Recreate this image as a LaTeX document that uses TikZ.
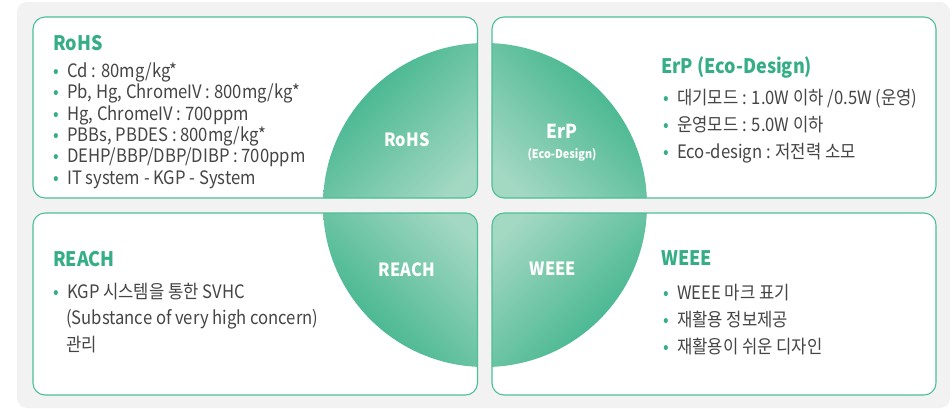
\documentclass[tikz,border=0pt]{standalone}
\usepackage{fontspec}
\setmainfont{Noto Sans CJK KR}[FakeStretch=0.9]
\usepackage{xcolor}
\usepackage{tikz}

\definecolor{bggray}{HTML}{F2F2F2}
\definecolor{pgreen}{HTML}{4DBF96}
\definecolor{tgreen}{HTML}{35AE85}
\definecolor{tgray}{HTML}{454545}
\definecolor{gdark}{HTML}{36B187}
\definecolor{gmid}{HTML}{4AB891}
\definecolor{glight}{HTML}{A3D8C3}

\tikzset{
    panel/.style={draw=pgreen, line width=1.1pt, rounded corners=12pt},
    heading/.style={anchor=base west, inner sep=0pt, text=tgreen, font=\bfseries\fontsize{20}{24}\selectfont},
    itemline/.style={anchor=base west, inner sep=0pt, text=tgray, font=\fontsize{18.5}{20}\selectfont},
    quadlabel/.style={text=white, font=\bfseries\fontsize{18.2}{22}\selectfont},
}
\newcommand{\gb}{\textcolor{tgreen}{\textbullet}\hspace{0.45em}}

\begin{document}
\begin{tikzpicture}[x=1pt,y=-1pt]
    \useasboundingbox (0,0) rectangle (952,408);
    \fill[bggray, rounded corners=10pt] (17,2) rectangle (950,408);

    % white panels
    \fill[white, rounded corners=12pt] (33,17) rectangle (477.5,198);
    \fill[white, rounded corners=12pt] (492,17) rectangle (936,198);
    \fill[white, rounded corners=12pt] (33,213) rectangle (477.5,395);
    \fill[white, rounded corners=12pt] (492,213) rectangle (936,395);

    % circle quarters
    \begin{scope}
        \clip[rounded corners=12pt] (33,17) rectangle (477.5,198);
        \clip (485,205) circle[radius=162];
        \shade[top color=gdark, middle color=gmid, bottom color=glight, shading angle=45] (323,43) rectangle (485,205);
    \end{scope}
    \begin{scope}
        \clip[rounded corners=12pt] (492,17) rectangle (936,198);
        \clip (485,205) circle[radius=162];
        \shade[top color=gdark, middle color=gmid, bottom color=glight, shading angle=-45] (485,43) rectangle (647,205);
    \end{scope}
    \begin{scope}
        \clip[rounded corners=12pt] (33,213) rectangle (477.5,395);
        \clip (485,205) circle[radius=162];
        \shade[top color=glight, middle color=gmid, bottom color=gdark, shading angle=-45] (323,205) rectangle (485,367);
    \end{scope}
    \begin{scope}
        \clip[rounded corners=12pt] (492,213) rectangle (936,395);
        \clip (485,205) circle[radius=162];
        \shade[top color=glight, middle color=gmid, bottom color=gdark, shading angle=45] (485,205) rectangle (647,367);
    \end{scope}

    % panel borders
    \draw[panel] (33,17) rectangle (477.5,198);
    \draw[panel] (492,17) rectangle (936,198);
    \draw[panel] (33,213) rectangle (477.5,395);
    \draw[panel] (492,213) rectangle (936,395);

    % labels in the circle
    \node[quadlabel] (rohsq) at (407,140) {RoHS};
    \node[quadlabel, font=\bfseries\fontsize{19.2}{22}\selectfont] (erpq) at (562,131) {ErP};
    \node[quadlabel, font=\bfseries\fontsize{12}{14}\selectfont] (ecoq) at (562,155) {(Eco-Design)};
    \node[quadlabel] (reachq) at (407,270) {REACH};
    \node[quadlabel] (weeeq) at (553,269) {WEEE};

    % RoHS
    \node[heading] (rohs) at (53,50) {RoHS};
    \node[itemline] (rohs1) at (53,77) {\gb Cd : 80mg/kg*};
    \node[itemline] (rohs2) at (53,98.5) {\gb Pb, Hg, ChromeIV : 800mg/kg*};
    \node[itemline] (rohs3) at (53,120) {\gb Hg, ChromeIV : 700ppm};
    \node[itemline] (rohs4) at (53,141) {\gb PBBs, PBDES : 800mg/kg*};
    \node[itemline] (rohs5) at (53,162.5) {\gb DEHP/BBP/DBP/DIBP : 700ppm};
    \node[itemline] (rohs6) at (53,184) {\gb IT system - KGP - System};

    % ErP
    \node[heading] (erp) at (661,73) {ErP (Eco-Design)};
    \node[itemline] (erp1) at (663,104) {\gb 대기모드 : 1.0W 이하 /0.5W (운영)};
    \node[itemline] (erp2) at (663,131) {\gb 운영모드 : 5.0W 이하};
    \node[itemline] (erp3) at (663,158) {\gb Eco-design : 저전력 소모};

    % REACH
    \node[heading] (reach) at (53,266) {REACH};
    \node[itemline] (reach1) at (53,298) {\gb KGP 시스템을 통한 SVHC};
    \node[itemline] (reach2) at (66,324) {(Substance of very high concern)};
    \node[itemline] (reach3) at (66,351) {관리};

    % WEEE
    \node[heading] (weee) at (661,265) {WEEE};
    \node[itemline] (weee1) at (663,299) {\gb WEEE 마크 표기};
    \node[itemline] (weee2) at (663,326) {\gb 재활용 정보제공};
    \node[itemline] (weee3) at (663,353) {\gb 재활용이 쉬운 디자인};
\end{tikzpicture}
\end{document}
